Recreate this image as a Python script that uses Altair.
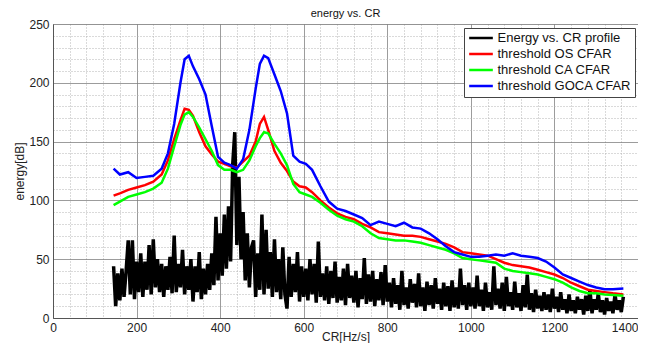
import altair as alt
import pandas as pd

# ---- threshold curves ----
thr_x = [145, 160, 180, 200, 220, 240, 260, 275, 290, 305, 315, 325, 335, 350, 365, 380, 395, 410, 425, 440,
         455, 470, 485, 495, 505, 515, 530, 545, 560, 575, 590, 605, 620, 640, 660, 680, 700, 720, 740, 760,
         780, 800, 820, 840, 860, 880, 900, 920, 940, 960, 980, 1000, 1020, 1040, 1060, 1080, 1100, 1120, 1140, 1160,
         1180, 1200, 1220, 1240, 1260, 1280, 1300, 1320, 1340, 1365]

goca = [127, 122, 124, 119, 120, 121, 127, 140, 165, 200, 220, 223, 214, 203, 190, 163, 137, 132, 130, 127,
        135, 160, 195, 216, 223, 221, 207, 193, 174, 138, 133, 131, 126, 112, 99, 93, 91, 88, 85, 79,
        82, 80, 78, 81, 77, 76, 72, 67, 61, 56, 54, 52, 52, 53, 54, 53, 55, 53, 52, 51,
        48, 43, 37, 34, 31, 28, 26, 24.5, 24.5, 25]

os_cfar = [104, 106, 109, 111, 113, 116, 122, 134, 152, 168, 178, 177, 172, 158, 146, 139, 133, 131, 129, 128,
           133, 138, 150, 165, 171, 160, 142, 132, 125, 116, 112, 111, 107, 100, 94, 89, 86, 84, 80, 77,
           73, 72, 71, 70, 70, 69, 67, 65, 63, 60, 56, 55, 54, 53, 50, 47, 45, 44, 43, 41,
           39, 37, 34, 30, 27, 24, 23, 22, 21, 20]

ca_cfar = [96, 99, 103, 105, 107, 110, 115, 127, 146, 164, 173, 175, 171, 162, 152, 142, 130, 126, 126, 124,
           126, 134, 146, 153, 158, 157, 148, 140, 130, 114, 107, 105, 103, 98, 92, 87, 84, 82, 78, 72,
           68, 67, 66, 66, 65, 64, 62, 60, 58, 55, 51, 50, 49, 48, 47, 42, 40, 39, 38, 37,
           35, 33, 30, 26, 23, 21, 21, 20, 19.5, 19]

# ---- energy profile (dense noisy trace, every 5 Hz/s from 145) ----
profile = [
    44, 10, 38, 15, 42, 18, 40, 66, 20, 66, 16, 48,
    22, 55, 18, 48, 24, 62, 20, 67, 26, 50, 22, 46, 18, 44, 24, 52,
    21, 70, 22, 46, 26, 58, 20, 44, 24, 50,
    14, 44, 22, 56, 16, 42, 20, 46, 24, 55,
    28, 86, 32, 72, 36, 88, 42, 95,
    48, 130, 158, 62, 120, 50,
    90, 32, 72, 26, 60, 66,
    18, 55, 24, 88, 20, 75, 25, 56, 18, 67, 22, 50, 16, 60, 20, 8, 52, 18, 46, 22, 56, 14, 44, 18,
    42, 15, 50, 20, 46, 13, 65, 18, 38, 15, 44, 12, 40, 17, 48, 13, 35, 15, 42, 11,
    46, 17, 36, 13, 40, 9, 34, 16, 51, 12, 37, 14, 40, 10, 33, 15, 39, 11, 45, 14,
    30, 9, 34, 12, 28, 7, 40, 11, 26, 8, 33, 13, 29, 9, 38, 10, 26, 6, 31, 11,
    28, 8, 34, 12, 25, 7, 30, 10, 27, 6, 32, 9, 26, 8, 42, 11, 28, 7, 30, 10,
    26, 8, 36, 10, 24, 6, 30, 9, 22, 7, 44, 11, 25, 8, 30, 6, 35, 10, 22, 7,
    31, 9, 21, 6, 28, 9, 37, 7, 21, 5, 24, 8, 19, 6, 22, 7, 20, 5, 25, 8,
    18, 5, 22, 7, 16, 4, 20, 6, 15, 4, 18, 7, 16, 3, 19, 6, 24, 4, 16, 7,
    21, 5, 15, 3, 17, 6, 14, 4, 20, 7, 15, 5, 18,
]
profile_x = [145 + 5 * i for i in range(len(profile))]

series_names = ["Energy vs. CR profile", "threshold OS CFAR", "threshold CA CFAR", "threshold GOCA CFAR"]
series_colors = ["#000000", "#ff0000", "#00ff00", "#0000ff"]

rows = [{"cr": x, "energy": y, "series": series_names[0], "idx": i} for i, (x, y) in enumerate(zip(profile_x, profile))]
for name, vals in [(series_names[1], os_cfar), (series_names[2], ca_cfar), (series_names[3], goca)]:
    rows += [{"cr": x, "energy": y, "series": name, "idx": i} for i, (x, y) in enumerate(zip(thr_x, vals))]
df = pd.DataFrame(rows)

x_all = sorted(set(list(range(0, 1401, 40)) + list(range(0, 1401, 200))))
y_all = list(range(0, 251, 10))

FONT = "Liberation Sans"

grid_dash = {"condition": {"test": "datum.value % 200 === 0", "value": [1, 0]}, "value": [1, 2]}
grid_color = {"condition": {"test": "datum.value % 200 === 0", "value": "#7a7a7a"}, "value": "#b5b5b5"}
ygrid_dash = {"condition": {"test": "datum.value % 50 === 0", "value": [1, 0]}, "value": [1, 2]}
ygrid_color = {"condition": {"test": "datum.value % 50 === 0", "value": "#7a7a7a"}, "value": "#b5b5b5"}
x_label_align = {"condition": {"test": "datum.value === 1400", "value": "right"}, "value": "center"}

x_enc = alt.X("cr:Q", scale=alt.Scale(domain=[0, 1400], nice=False),
              axis=alt.Axis(values=x_all, title="CR[Hz/s]", grid=True, gridDash=grid_dash, gridColor=grid_color,
                            gridOpacity=1, ticks=False, labelFlush=False, labelAlign=x_label_align,
                            labelExpr="datum.value % 200 === 0 ? datum.label : ''",
                            labelFont=FONT, labelFontSize=12, labelColor="#222", labelPadding=4,
                            titleFont=FONT, titleFontSize=12, titleFontWeight="normal", titleColor="#222",
                            titleY=22, titleBaseline="alphabetic", domainColor="#555", format="d"))
y_enc = alt.Y("energy:Q", scale=alt.Scale(domain=[0, 250], nice=False),
              axis=alt.Axis(values=y_all, title="energy[dB]", grid=True, gridDash=ygrid_dash, gridColor=ygrid_color,
                            gridOpacity=1, ticks=False, labelFlush=False,
                            labelExpr="datum.value % 50 === 0 ? datum.label : ''",
                            labelFont=FONT, labelFontSize=12, labelColor="#222", labelPadding=4,
                            titleFont=FONT, titleFontSize=12, titleFontWeight="normal", titleColor="#222",
                            titlePadding=2, domainColor="#555"))

color_enc = alt.Color("series:N", scale=alt.Scale(domain=series_names, range=series_colors),
                      legend=alt.Legend(title=None, orient="none", legendX=411, legendY=4,
                                        symbolType="stroke", symbolSize=560, symbolStrokeWidth=2.5,
                                        clipHeight=13, rowPadding=2, labelFont=FONT, labelFontSize=13,
                                        labelColor="#111", labelOffset=3, padding=3.5,
                                        strokeColor="#444", fillColor="white", cornerRadius=0))

base = alt.Chart(df).encode(x=x_enc, y=y_enc, color=color_enc, order="idx:Q")

prof = base.transform_filter(alt.datum.series == series_names[0]).mark_line(
    strokeWidth=3.5, strokeJoin="bevel", clip=True)
thr = base.transform_filter(alt.datum.series != series_names[0]).mark_line(strokeWidth=2.5, clip=True)

chart = alt.layer(prof, thr).properties(
    width=585, height=294,
    title=alt.TitleParams("energy vs. CR", font=FONT, fontSize=11, fontWeight="normal", color="#111", offset=-1),
    autosize=alt.AutoSizeParams(type="none"),
    padding={"left": 45, "top": 16, "right": 0, "bottom": 25},
).configure_view(stroke="#555", strokeWidth=1).configure(background="white")

chart.save("out.html", embed_options={"renderer": "svg", "actions": False})
